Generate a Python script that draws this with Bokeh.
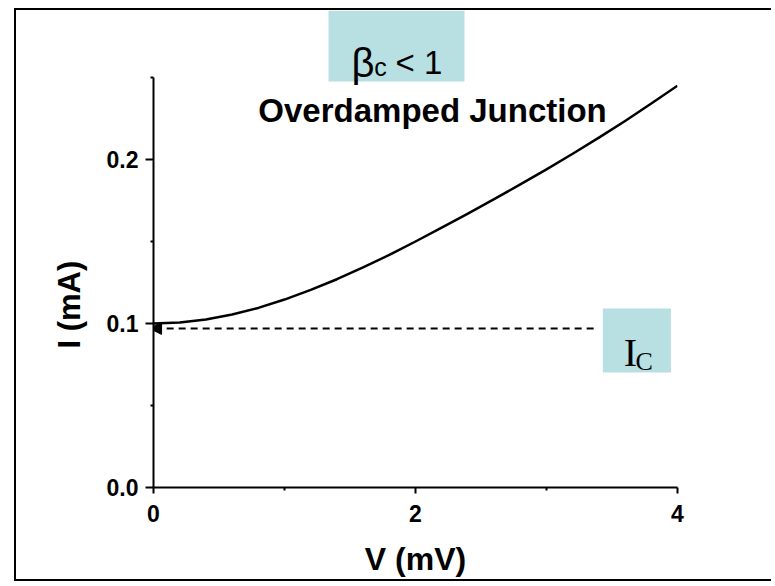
import numpy as np
from bokeh.plotting import figure
from bokeh.models import Range1d, FixedTicker, Arrow, NormalHead, Title
from bokeh.core.properties import value
from bokeh.embed import file_html
from bokeh.resources import INLINE

# ---- data ----
voltage_mV = [0.0, 0.2, 0.4, 0.6, 0.8, 1.0, 1.2, 1.4, 1.6, 1.8, 2.0,
              2.2, 2.4, 2.6, 2.8, 3.0, 3.2, 3.4, 3.6, 3.8, 4.0]
current_mA = [0.1000, 0.1006, 0.1025, 0.1055, 0.1095, 0.1146, 0.1205, 0.1270, 0.1342, 0.1418, 0.1500,
              0.1584, 0.1670, 0.1758, 0.1848, 0.1940, 0.2035, 0.2133, 0.2235, 0.2341, 0.2450]
ic_level_mA = 0.097
x_ticks = [0, 2, 4]
x_minor_ticks = [1, 3]
y_ticks = [0.0, 0.1, 0.2]
y_minor_ticks = [0.05, 0.15, 0.25]
y_tick_labels = ["0.0", "0.1", "0.2"]
x_tick_labels = ["0", "2", "4"]

BOX = "#B8E0E3"
SANS = "Liberation Sans"
SERIF = "Liberation Serif"

p = figure(width=757, height=573,
           x_range=Range1d(0, 4), y_range=Range1d(0, 0.29085),
           output_backend="svg", toolbar_location=None,
           min_border_left=137, min_border_right=96,
           min_border_top=0, min_border_bottom=96)
p.styles = {"margin-left": "14px", "margin-top": "8px",
            "border-top": "2px solid black",
            "border-left": "2px solid black", "border-bottom": "2px solid black"}
p.outline_line_color = None
p.grid.visible = False
p.background_fill_color = "white"
p.border_fill_color = "white"

for ax in (p.xaxis[0], p.yaxis[0]):
    ax.axis_line_width = 2
    ax.axis_line_color = "black"
    ax.major_tick_in = 0
    ax.minor_tick_in = 0
    ax.major_tick_line_width = 2
    ax.minor_tick_line_width = 2
    ax.major_label_text_font = SANS
    ax.major_label_text_font_style = "bold"
    ax.major_label_text_font_size = "23px"
    ax.major_label_text_color = "black"
    ax.axis_label_text_font = SANS
    ax.axis_label_text_font_style = "bold"
    ax.axis_label_text_font_size = "32px"
    ax.axis_label_text_color = "black"

xa = p.xaxis[0]
xa.ticker = FixedTicker(ticks=x_ticks, minor_ticks=x_minor_ticks)
xa.major_label_overrides = {t: s for t, s in zip(x_ticks, x_tick_labels)}
xa.bounds = (0, 4)
xa.major_tick_out = 6
xa.minor_tick_out = 3
xa.major_label_standoff = 11
xa.axis_label = "V (mV)"
xa.axis_label_standoff = 16

ya = p.yaxis[0]
ya.ticker = FixedTicker(ticks=y_ticks, minor_ticks=y_minor_ticks)
ya.major_label_overrides = {t: s for t, s in zip(y_ticks, y_tick_labels)}
ya.bounds = (0, 0.25)
ya.major_tick_out = 8
ya.minor_tick_out = 3
ya.major_label_standoff = 7

# y-axis title placed along the left side
p.add_layout(Title(text="I (mA)", align="left", offset=127, padding=12,
                   text_font=SANS, text_font_style="bold",
                   text_font_size="31px", text_color="black"), "left")

# coloured boxes
p.quad(left=[1.336], right=[2.374], bottom=[0.2476], top=[0.2909],
       fill_color=BOX, line_color=None)
p.quad(left=[3.43], right=[3.95], bottom=[0.0701], top=[0.1091],
       fill_color=BOX, line_color=None)

# IV curve
p.line(voltage_mV, current_mA, line_width=2.5, line_color="black", line_join="round")

# dashed Ic line with arrow
p.add_layout(Arrow(end=NormalHead(size=12, fill_color="black", line_color="black", line_width=1),
                   x_start=3.36, y_start=ic_level_mA, x_end=-0.03, y_end=ic_level_mA,
                   line_dash="7 5", line_width=2, line_color="black"))

# texts
p.text(x=[2.13], y=[0.2299], text=["Overdamped Junction"], text_align="center",
       text_baseline="alphabetic", text_font=value(SANS), text_font_style="bold",
       text_font_size="33px", text_color="black")
p.text(x=[1.512], y=[0.2591], text=["β"], text_baseline="alphabetic",
       text_font=value(SANS), text_font_size="40px", text_color="black")
p.text(x=[1.685], y=[0.2561], text=["c"], text_baseline="alphabetic",
       text_font=value(SANS), text_font_size="25px", text_color="black")
p.text(x=[1.847], y=[0.2591], text=["< 1"], text_baseline="alphabetic",
       text_font=value(SANS), text_font_size="33px", text_color="black")
p.text(x=[3.59], y=[0.0823], text=["I"], text_baseline="alphabetic",
       text_font=value(SERIF), text_font_size="40px", text_color="black")
p.text(x=[3.68], y=[0.0768], text=["C"], text_baseline="alphabetic",
       text_font=value(SERIF), text_font_size="26px", text_color="black")

open("out.html", "w").write(file_html(p, INLINE))
